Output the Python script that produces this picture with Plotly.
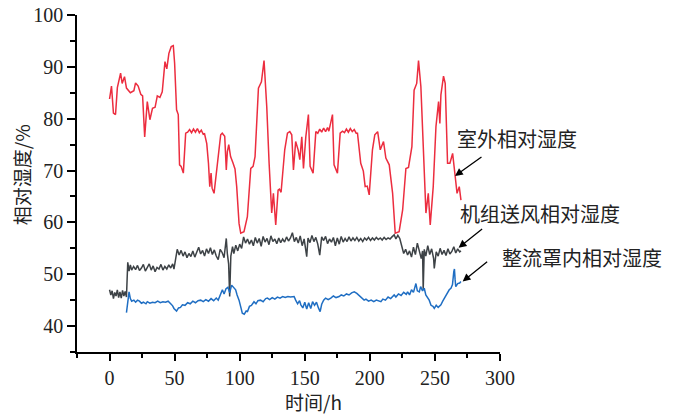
import plotly.graph_objects as go

# ---------------- data ----------------
red_t = [0, 1.5, 3, 4.6, 6, 8.5, 9.7, 11.5, 13, 16, 18.7, 20, 22, 24, 25.4, 27, 29, 31, 33, 35,
         36.7, 38.7, 40.5, 42.6, 44, 45.6, 47.4, 49, 50, 51.5, 52.8, 53.8, 55, 56.7, 58.5, 60,
         61.5, 63, 64.5, 66, 67.5, 69, 70.5, 72, 73, 74.7, 76, 77, 78, 78.8, 80.3, 82.3, 83.6,
         85.4, 86.6, 88.5, 89.7, 90.5, 91.6, 93, 94.8, 96.4, 97.7, 99.5, 100.8, 103.3, 105.9,
         108.5, 110.3, 111.8, 114.4, 116.7, 118.7, 120.8, 122.6, 124.6, 125.9, 127.7, 129.5,
         130.5, 131.8, 134.6, 136.7, 138.5, 140, 141.3, 143, 144.9, 146.2, 147.7, 149, 150.8,
         152.8, 154.1, 156.4, 158.5, 160, 161.5, 163, 164.5, 166, 167.5, 168.5, 171.3, 172.5,
         175.1, 177.2, 179, 180.5, 182, 183.5, 185, 186.5, 188, 189.5, 190.5, 193, 195, 196.4,
         198, 199.5, 202, 203.8, 206, 208, 210.5, 212.3, 214.9, 217.5, 219.5, 222.5, 225.2,
         227.7, 229.7, 232.3, 234, 236, 237.4, 239.2, 241, 243.1, 244.9, 246.4, 248.7, 250.8,
         252.8, 253.8, 254.6, 256.6, 257.9, 259.7, 261.5, 263.6, 265.6, 267, 268.7, 270]
red_v = [83.8, 86.3, 81.1, 80.8, 86, 88.8, 86.8, 88.1, 85.9, 85, 85.4, 86.9, 86.3, 84.7, 84.4, 76.5,
         83.3, 79.8, 82, 82.2, 84.4, 84.1, 85.2, 91, 89.6, 92.6, 93.9, 94.1, 90.7, 81.7, 80.8,
         71.1, 70.8, 69.5, 77.2, 77.4, 77.9, 77.3, 78.0, 77.4, 78.1, 77.3, 77.8, 77.0, 77.1,
         75.2, 71.4, 66.9, 69.5, 66.6, 65.6, 70.1, 74, 76.9, 77.2, 76.6, 70.1, 73.6, 75, 72.7,
         71.5, 70.3, 66.9, 59.8, 57.9, 58.2, 61.1, 70.4, 70.8, 72.7, 85.9, 87.1, 91.2, 82.3,
         71.4, 61.8, 65.6, 59.5, 66.2, 66.4, 65.8, 74, 77.2, 77.5, 76.9, 70.1, 75.6, 74, 72.1,
         76.5, 70.4, 76.5, 80.8, 70.8, 69.5, 77.5, 77.2, 78.0, 77.4, 78.2, 77.5, 78.3, 77.6,
         80.8, 71.1, 69.5, 77.2, 77.6, 77.3, 78.0, 77.4, 78.1, 77.5, 77.9, 77.2, 77.2, 71.4,
         69.9, 66.9, 67, 65.3, 74, 76.9, 77.5, 74, 75.6, 72.4, 71.1, 65.6, 57.9, 58.2, 62.4,
         70.4, 70.6, 74.6, 85.5, 86.8, 91.2, 86.2, 75.9, 61.8, 65.6, 59.5, 66.9, 78.5, 83.3,
         79.1, 84.6, 88.2, 86.8, 71.4, 71.4, 73.3, 68.8, 65.6, 66.9, 64.3]

gray_t = [0, 1, 2, 3, 4, 5, 6, 7, 8, 9, 10, 11, 12, 13, 14, 15, 16, 17, 18.5, 20, 21.5, 23, 24.5,
          26, 27.5, 29, 30.5, 32, 33.5, 35, 36.5, 38, 39.5, 41, 42.5, 44, 45.5, 47, 48.5, 49.5,
          51, 52, 53.5, 55, 56.5, 58, 59.5, 61, 62.5, 64, 65.5, 67, 68.5, 70, 71.5, 73, 74.5,
          76, 77.5, 79, 80.5, 82, 83.5, 85, 86.5, 88, 89.7, 90.5, 91.5, 92.3, 93.2, 94.5, 95.5,
          97, 98.5, 100, 101.5, 103, 104.5, 106, 107.5, 109, 110.5, 112, 113.5, 115, 116.5, 118,
          119.5, 121, 122.5, 124, 125.5, 127, 128.5, 130, 131.5, 133, 134.5, 136, 137.5, 139,
          140.5, 142, 143.5, 145, 146.5, 148, 149.5, 151.5, 152.5, 154, 155.5, 157, 158.5, 160,
          161.5, 163, 164.5, 166, 167.5, 169, 170.5, 172, 173.5, 175, 176.5, 178, 179.5, 181,
          182.5, 184, 185.5, 187, 188.5, 190, 191.5, 193, 194.5, 196, 197.5, 199, 200.5, 202,
          203.5, 205, 206.5, 208, 209.5, 211, 212.5, 214, 215.5, 217, 218.7, 220, 221.5, 223,
          224.5, 226, 227.5, 229, 230.5, 232, 233.5, 235, 236.5, 238, 239.5, 240.5, 241, 241.8,
          243, 244.5, 246, 247.5, 249, 249.5, 251, 252.5, 254, 255.5, 257, 258.5, 260, 261.5,
          263, 264.5, 266, 267.5, 269, 270]
gray_v = [47.0, 46.0, 46.8, 45.3, 46.5, 45.8, 47.0, 45.5, 46.6, 45.4, 46.9, 45.8, 46.7, 45.6,
          52.3, 50.6, 51.8, 50.8, 51.5, 50.9, 51.7, 50.7, 51.2, 51.9, 50.6, 51.4, 52.0, 50.8,
          51.6, 50.5, 51.3, 51.0, 51.9, 50.8, 51.5, 51.0, 51.8, 51.2, 52.0, 51.0, 53.0, 54.8,
          53.7, 54.6, 53.5, 54.3, 53.2, 54.0, 53.4, 54.5, 53.3, 54.1, 55.2, 53.9, 54.6, 53.5,
          54.9, 54.0, 55.1, 53.8, 54.7, 53.5, 52.8, 54.8, 54.2, 53.2, 56.9, 54.0, 52.0, 45.7,
          53.5, 55.3, 54.0, 55.6, 54.5, 55.8, 55.0, 57.2, 56.0, 56.8, 55.8, 56.6, 55.5, 57.1,
          56.0, 56.9, 55.4, 57.3, 56.2, 56.9, 55.7, 57.4, 56.3, 56.8, 55.9, 57.0, 56.1, 56.8,
          56.2, 57.2, 56.4, 57.0, 58.0, 56.3, 57.1, 56.0, 57.4, 55.5, 56.8, 53.4, 57.0, 56.1,
          57.5, 56.3, 57.1, 55.8, 53.7, 57.2, 56.5, 57.3, 55.9, 56.8, 56.2, 57.1, 55.5, 57.0,
          55.8, 57.3, 56.2, 56.9, 56.3, 57.2, 56.4, 57.0, 56.5, 57.1, 56.4, 56.9, 56.3, 57.0,
          56.6, 57.1, 56.5, 57.0, 56.6, 57.1, 56.7, 57.0, 56.6, 57.1, 56.7, 57.0, 56.8, 57.2,
          57.6, 56.8, 57.5, 56.9, 55.5, 54.0, 54.8, 53.7, 54.5, 53.3, 55.2, 53.8, 56.0, 54.2,
          53.0, 54.5, 47.0, 54.8, 53.5, 55.5, 53.8, 54.9, 53.0, 51.1, 54.3, 53.5, 55.0, 53.8,
          54.6, 53.6, 54.9, 53.9, 54.4, 55.3, 54.1, 54.9, 54.3, 54.5]

blue_t = [13, 14, 15, 16, 17, 18.7, 20, 21.5, 23, 24.5, 26, 28, 29, 31, 33, 35, 37, 39, 41, 43,
          45, 47, 48.5, 49.5, 51.5, 53, 54.5, 56, 58, 60, 62, 64, 66, 68, 70, 72, 74, 76, 78,
          80, 82, 83.5, 85, 86.7, 88, 89.5, 91, 92.3, 93.8, 95, 96.9, 98, 99.5, 101, 102, 103.5,
          105, 106, 107.5, 109, 111, 112.5, 114, 116, 118, 120, 121.3, 123, 125, 127, 129, 131,
          133, 135, 137, 139, 141.8, 143, 144.5, 146, 147, 148.5, 150, 151.5, 153, 154.6, 156,
          157.5, 159, 160.5, 161.8, 163, 164.5, 166, 168, 170, 172, 174, 176.4, 178, 180, 182,
          184, 186, 188, 190, 192, 194, 195.6, 197, 199, 201, 203, 205, 207, 208.5, 210, 212,
          214, 216, 218.7, 220, 222, 224, 226, 228, 229, 230.5, 232, 233.5, 235.4, 236.5, 238,
          239, 240.5, 241.8, 243, 244.5, 245.6, 247, 248.5, 249.5, 251, 252.5, 254.6, 256,
          257.5, 259.7, 261, 262.3, 263.5, 264.5, 265, 265.5, 266, 267.5, 269, 270]
blue_v = [42.6, 44.5, 46.6, 45.3, 44.8, 45.0, 44.6, 45.0, 44.8, 44.4, 44.6, 44.3, 44.7, 44.4,
          44.6, 44.5, 44.8, 44.5, 44.7, 44.6, 44.8, 44.3, 43.9, 43.4, 42.9, 43.5, 43.6, 44.1,
          44.0, 44.5, 44.3, 44.8, 44.5, 44.9, 45.0, 44.7, 45.1, 44.8, 45.3, 44.9, 45.4, 45.0,
          46.0, 47.0, 46.2, 47.2, 47.5, 46.4, 47.9, 47.6, 47.0, 46.0, 45.0, 43.5, 42.5, 42.3,
          42.9, 42.8, 43.8, 44.0, 44.7, 44.3, 44.9, 45.0, 44.7, 45.3, 45.4, 45.1, 45.5, 45.2,
          45.6, 45.4, 45.7, 45.5, 45.7, 45.6, 45.7, 45.0, 44.3, 44.9, 44.1, 43.5, 44.6, 43.3,
          44.5, 43.4, 44.7, 44.0, 44.6, 43.5, 42.8, 44.2, 45.0, 45.4, 45.1, 45.4, 45.8, 45.5,
          45.7, 46.0, 45.8, 46.2, 46.0, 46.4, 46.6, 46.3, 45.8, 45.3, 45.0, 45.2, 44.8, 45.0,
          44.7, 45.0, 44.8, 44.7, 45.2, 45.0, 45.6, 45.3, 46.0, 45.6, 46.2, 45.9, 46.5, 46.1,
          46.6, 46.0, 47.0, 46.5, 48.2, 46.8, 46.6, 47.6, 46.8, 47.3, 46.0, 45.5, 45.0, 44.0,
          43.8, 43.4, 44.0, 43.6, 44.1, 44.8, 45.5, 46.6, 47.0, 47.3, 48.0, 50.5, 51.0, 49.0,
          47.6, 48.2, 48.3, 48.6]

x_ticks = [0, 50, 100, 150, 200, 250, 300]
y_ticks = [40, 50, 60, 70, 80, 90, 100]
series_names = ["室外相对湿度", "机组送风相对湿度", "整流罩内相对湿度"]

# ---------------- figure ----------------
fig = go.Figure()
fig.add_trace(go.Scatter(x=red_t, y=red_v, mode="lines", name=series_names[0],
                         line=dict(color="#ec2d3f", width=1.5)))
fig.add_trace(go.Scatter(x=gray_t, y=gray_v, mode="lines", name=series_names[1],
                         line=dict(color="#3d4246", width=1.5)))
fig.add_trace(go.Scatter(x=blue_t, y=blue_v, mode="lines", name=series_names[2],
                         line=dict(color="#1f6ec3", width=1.5)))

serif = "Liberation Serif, Times New Roman, serif"
cjk = "Noto Sans CJK SC, sans-serif"

axis_common = dict(showline=True, linecolor="black", linewidth=1.5, ticks="outside",
                   tickcolor="black", tickwidth=1.5, showgrid=False, zeroline=False,
                   automargin=False,
                   tickfont=dict(family=serif, size=20, color="#222"))

fig.update_xaxes(range=[-25, 300], tickvals=x_ticks, ticklen=7,
                 minor=dict(dtick=25, tick0=0, ticklen=4, ticks="outside", tickcolor="black",
                            tickwidth=1.5, showgrid=False),
                 **axis_common)
fig.update_yaxes(range=[35, 100], tickvals=y_ticks, ticklen=8,
                 minor=dict(dtick=5, tick0=0, ticklen=5, ticks="outside", tickcolor="black",
                            tickwidth=1.5, showgrid=False),
                 **axis_common)

def label(text, x, y, size=20, angle=0):
    return dict(text=text, xref="paper", yref="paper", x=x, y=y, textangle=angle,
                xanchor="center", yanchor="middle", showarrow=False,
                font=dict(family=cjk, size=size, color="#222"))

annotations = [
    label("相对湿度/%", -0.132, 0.525, 19, -90),
    label("时间/h", 0.56, -0.147, 19),
    label(series_names[0], 1.040, 0.635),
    label(series_names[1], 1.095, 0.412),
    label(series_names[2], 1.194, 0.279),
]
arrows = [(265.4, 68.95, 28, -20), (268.2, 55.1, 25, -20), (271.3, 48.6, 26, -21)]
for hx, hy, ax, ay in arrows:
    annotations.append(dict(text="", x=hx, y=hy, xref="x", yref="y", ax=ax, ay=ay,
                            showarrow=True, arrowhead=2, arrowsize=1.2, arrowwidth=1.3,
                            arrowcolor="black", standoff=0))

fig.update_layout(width=679, height=415, margin=dict(l=77, r=179, t=15, b=63),
                  plot_bgcolor="white", paper_bgcolor="white", showlegend=False,
                  annotations=annotations)

# remove the default 8px page margin so the figure fills the window exactly
fig.write_html("out.html", config={"displayModeBar": False},
               post_script="document.body.style.margin='0';")
